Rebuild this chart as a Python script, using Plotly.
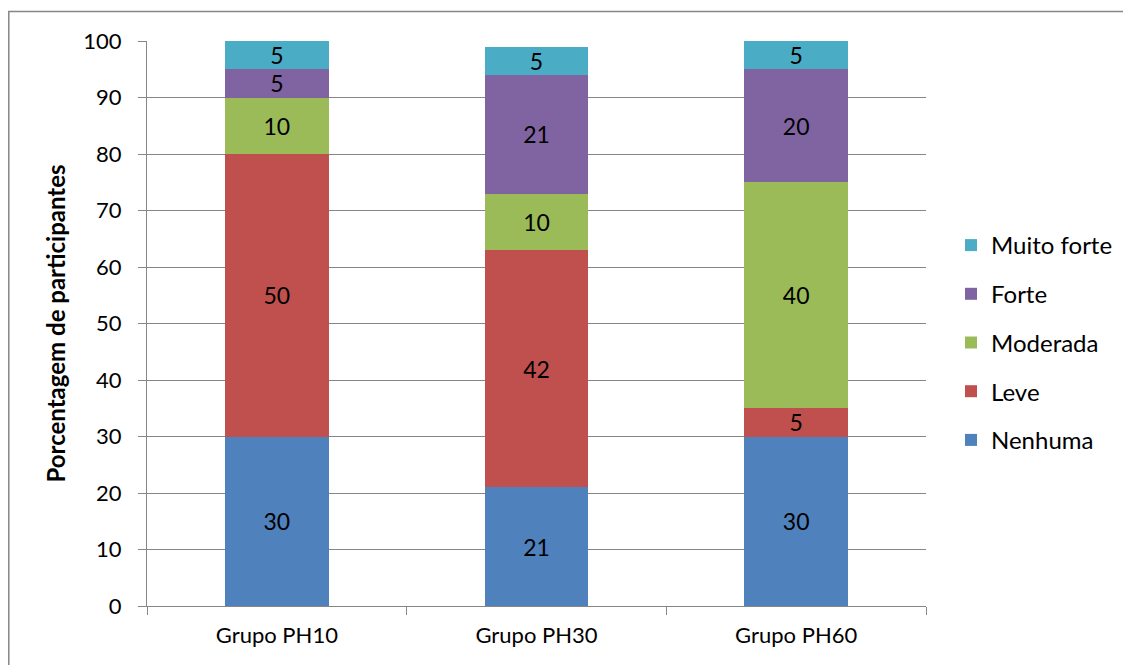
import plotly.graph_objects as go

categories = ["Grupo PH10", "Grupo PH30", "Grupo PH60"]
nenhuma = [30, 21, 30]
leve = [50, 42, 5]
moderada = [10, 10, 40]
forte = [5, 21, 20]
muito_forte = [5, 5, 5]

series = [
    ("Nenhuma", nenhuma, "#4F81BD"),
    ("Leve", leve, "#C0504D"),
    ("Moderada", moderada, "#9BBB59"),
    ("Forte", forte, "#8064A2"),
    ("Muito forte", muito_forte, "#4BACC6"),
]

FONT = "Lato, Carlito, Calibri, sans-serif"

fig = go.Figure()
n = len(series)
for i, (name, vals, color) in enumerate(series):
    fig.add_trace(go.Bar(
        x=categories, y=vals, name=name, legendgroup=name,
        legendrank=n - i,
        marker=dict(color=color, line=dict(width=0)),
        width=0.4,
        text=vals, textposition="inside", insidetextanchor="middle",
        textangle=0,
        textfont=dict(color="black", size=23, family=FONT),
        constraintext="none",
    ))

OFF = 8  # page body margin
W, H = 1131 - OFF, 665 - OFF
# plot area in page coordinates
L, R, T, B = 147, 926, 41, 606
pw, ph = R - L, B - T

def px(x):
    return (x - L) / pw

def py(y):
    return (B - y) / ph

fig.update_layout(
    width=W, height=H,
    barmode="stack",
    paper_bgcolor="white", plot_bgcolor="white",
    margin=dict(l=L - OFF, r=W - (R - OFF), t=T - OFF, b=H - (B - OFF), pad=0),
    font=dict(family=FONT, size=22, color="black"),
    uniformtext=dict(minsize=22, mode="show"),
    showlegend=True,
    legend=dict(
        traceorder="grouped",
        x=px(951), y=py(223), xanchor="left", yanchor="top",
        font=dict(size=24, family=FONT),
        itemsizing="constant",
        tracegroupgap=14.5,
        bgcolor="rgba(0,0,0,0)",
        itemwidth=30,
    ),
    xaxis=dict(
        type="category",
        showline=True, linecolor="#868686", linewidth=1,
        ticks="outside", tickson="boundaries", ticklen=8, tickcolor="#868686",
        tickfont=dict(size=22, family=FONT),
        ticklabelstandoff=10,
        showgrid=False,
    ),
    yaxis=dict(
        range=[0, 100], dtick=10, tick0=0,
        showline=True, linecolor="#868686", linewidth=1,
        ticks="outside", ticklen=8, tickcolor="#868686",
        showgrid=True, gridcolor="#868686", gridwidth=1,
        tickfont=dict(size=22, family=FONT),
        ticklabelstandoff=12,
        zeroline=False,
        title=dict(text="<b>Porcentagem de participantes</b>",
                   font=dict(size=24, family=FONT), standoff=10),
    ),
    shapes=[dict(
        type="rect", xref="paper", yref="paper",
        x0=px(8.8), x1=px(1300), y0=py(800), y1=py(11.5),
        line=dict(color="#868686", width=1.5), fillcolor="rgba(0,0,0,0)",
        layer="below",
    )],
)

fig.write_html("out.html")
